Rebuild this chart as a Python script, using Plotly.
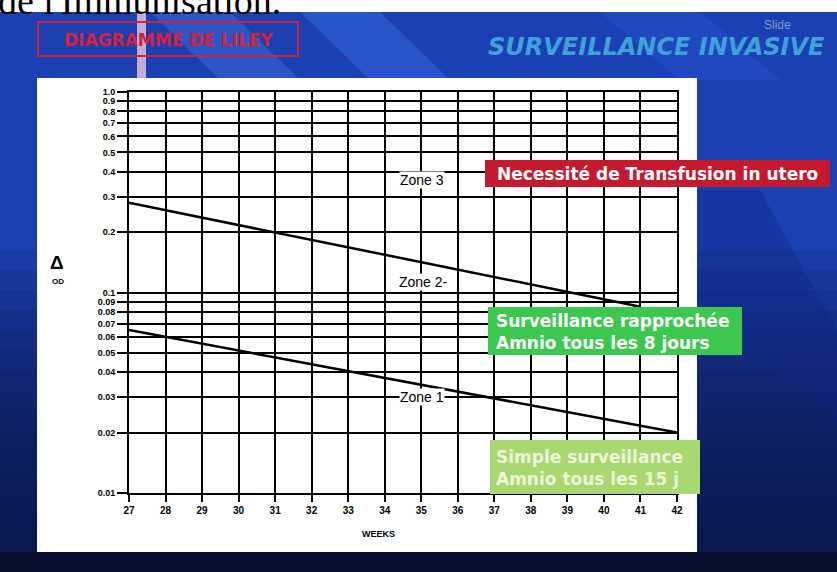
import plotly.graph_objects as go

# ---------------- data ----------------
weeks = list(range(27, 43))
week_labels = [str(w) for w in weeks]
od_ticks = [0.01, 0.02, 0.03, 0.04, 0.05, 0.06, 0.07, 0.08, 0.09,
            0.1, 0.2, 0.3, 0.4, 0.5, 0.6, 0.7, 0.8, 0.9, 1.0]
od_labels = ["0.01", "0.02", "0.03", "0.04", "0.05", "0.06", "0.07", "0.08", "0.09",
             "0.1", "0.2", "0.3", "0.4", "0.5", "0.6", "0.7", "0.8", "0.9", "1.0"]
upper_weeks = [27, 41]
upper_od = [0.28, 0.085]
lower_weeks = [27, 42]
lower_od = [0.065, 0.02]

# ---------------- geometry ----------------
W, H = 837, 572
L, R, T, B = 129, 160, 92, 79
PW = W - L - R
PH = H - T - B
BOT = H - B


def px(x):
    return (x - L) / PW


def py(y):
    return (BOT - y) / PH


def path(points):
    return "M " + " L ".join(f"{px(x):.5f},{py(y):.5f}" for x, y in points) + " Z"


fig = go.Figure()

fig.add_trace(go.Scatter(x=upper_weeks, y=upper_od, mode="lines",
                         line=dict(color="black", width=2.5), showlegend=False, hoverinfo="skip"))
fig.add_trace(go.Scatter(x=lower_weeks, y=lower_od, mode="lines",
                         line=dict(color="black", width=2.5), showlegend=False, hoverinfo="skip"))

shapes = []


def rect(x0, y0, x1, y1, color, layer="below", line=None, opacity=1.0):
    d = dict(type="rect", xref="paper", yref="paper", x0=px(x0), x1=px(x1),
             y0=py(y1), y1=py(y0), fillcolor=color, layer=layer, opacity=opacity,
             line=line if line else dict(width=0))
    shapes.append(d)


def poly(points, color, opacity=1.0, layer="below"):
    shapes.append(dict(type="path", xref="paper", yref="paper", path=path(points),
                       fillcolor=color, opacity=opacity, layer=layer, line=dict(width=0)))


# background slide
rect(0, 0, W, H, "#1b40b4")
# lighter diagonal streaks in the top band
poly([(150, 12), (230, 12), (300, 80), (220, 80)], "#3a66d8", 0.55)
poly([(300, 12), (380, 12), (450, 80), (370, 80)], "#3a6ee0", 0.45)
poly([(600, 12), (700, 12), (780, 80), (680, 80)], "#2a58d0", 0.4)
# darkening toward the bottom
for y0 in range(250, 572, 20):
    rect(0, y0, W, 572, "#06123a", opacity=0.10)
# right diagonal shadow
poly([(697, 190), (760, 190), (837, 330), (837, 420), (697, 300)], "#0d2680", 0.35)
# top white strip
rect(0, -10, W, 12, "white")
# bottom dark strip
rect(0, 552, W, H, "#070d28", opacity=0.8)
# white panel
rect(37, 78, 697, 552, "white")
# pinkish flare
rect(137, 12, 146, 78, "#f0c8d8", layer="above", opacity=0.8)
# title box outline
rect(38, 22, 298, 56, "rgba(0,0,0,0)", layer="above", line=dict(color="#d4203a", width=2))
# coloured label boxes
rect(485, 160, 830, 187, "#c41a2e", layer="above")
rect(488, 307, 742, 355, "#3cc84e", layer="above")
rect(490, 440, 700, 494, "#a8d870", layer="above")

annotations = []


def text(x, y, s, size, color="black", xanchor="center", yanchor="middle", weight="normal",
         family="Liberation Sans", style="normal", align="center", bgcolor=None):
    a = dict(x=px(x), y=py(y), xref="paper", yref="paper", text=s,
             showarrow=False, xanchor=xanchor, yanchor=yanchor, align=align,
             font=dict(size=size, color=color, family=family, weight=weight, style=style))
    if bgcolor:
        a["bgcolor"] = bgcolor
        a["borderpad"] = 0
    annotations.append(a)


text(-4, 1, "de l'Immunisation.", 38, family="Liberation Serif", xanchor="left")
text(168, 40, "DIAGRAMME DE LILEY", 17, color="#d8203a", weight="bold", family="DejaVu Sans")
text(656, 47, "SURVEILLANCE INVASIVE", 24, color="#3ea2d8", weight="bold", style="italic",
     family="DejaVu Sans")
text(777, 25, "Slide", 12, color="#7f9cc0")
text(657, 174, "Necessité de Transfusion in utero", 17, color="white", weight="bold",
     family="DejaVu Sans")
text(494, 332, "Surveillance rapprochée<br>Amnio tous les 8 jours", 17, color="white",
     weight="bold", xanchor="left", align="left", family="DejaVu Sans")
text(494, 468, "Simple surveillance<br>Amnio tous les 15 j", 17, color="#eef8dc",
     weight="bold", xanchor="left", align="left", family="DejaVu Sans")
text(422, 180, "Zone 3", 14, bgcolor="white")
text(423, 282, "Zone 2-", 14, bgcolor="white")
text(422, 397, "Zone 1", 14, bgcolor="white")
text(57, 262, "Δ", 19, weight="bold")
text(58, 281, "OD", 8, weight="bold")
text(378, 534, "WEEKS", 9, weight="bold")

axis_font = dict(size=10, color="black", family="Liberation Sans", weight="bold")
y_font = dict(size=9, color="black", family="Liberation Sans", weight="bold")

fig.update_layout(
    width=W, height=H,
    margin=dict(l=L, r=R, t=T, b=B, pad=0),
    paper_bgcolor="#1b40b4",
    plot_bgcolor="white",
    shapes=shapes,
    annotations=annotations,
    xaxis=dict(range=[27, 42], tickvals=weeks, ticktext=week_labels, showgrid=True,
               gridcolor="black", gridwidth=2, ticks="outside", ticklen=7, tickwidth=2,
               tickcolor="black", tickfont=axis_font, showline=True, linecolor="black",
               linewidth=2, mirror=True, zeroline=False, fixedrange=True),
    yaxis=dict(type="log", range=[-2, 0], tickvals=od_ticks, ticktext=od_labels,
               showgrid=True, gridcolor="black", gridwidth=2, ticks="outside", ticklen=10,
               tickwidth=2, tickcolor="black", tickfont=y_font, showline=True,
               linecolor="black", linewidth=2, mirror=True, zeroline=False, fixedrange=True),
)

fig.write_html("out.html")
